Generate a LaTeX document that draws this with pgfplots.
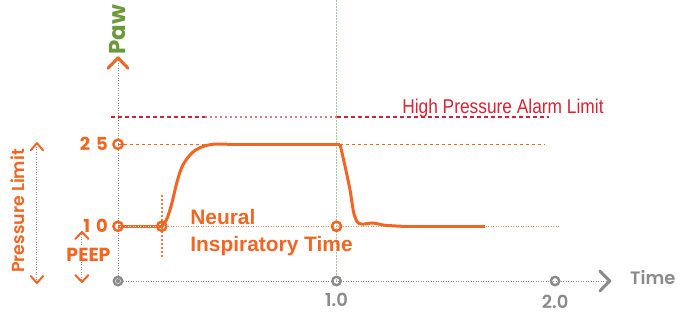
\documentclass[border=0pt]{standalone}
\usepackage{fontspec}
\setmainfont{Liberation Sans}
\newfontfamily\pop{Poppins SemiBold}
\newfontfamily\popb{Poppins Bold}
\usepackage{pgfplots}
\pgfplotsset{compat=1.18}
\definecolor{org}{HTML}{F26522}
\definecolor{gry}{HTML}{8A8A8A}
\definecolor{grn}{HTML}{6A9A3A}
\definecolor{lgrn}{HTML}{A8C890}
\definecolor{alrm}{HTML}{C8263C}
\definecolor{alrmtxt}{HTML}{D92234}
\definecolor{alrml}{HTML}{E07A88}
\begin{document}
\begin{tikzpicture}
\begin{axis}[
  scale only axis, width=677bp, height=314bp,
  xmin=-0.540, xmax=2.558, ymin=-6.03, ymax=51.37,
  axis lines=none, clip=false,
]
% green vertical line at 1.0
\addplot[draw=lgrn, line width=1bp, dash pattern=on 1.5bp off 1.5bp] coordinates {(1.0,51.3) (1.0,0)};
% orange vertical dotted at 0.2
\addplot[draw=org!85, line width=1.4bp, dash pattern=on 2bp off 2bp] coordinates {(0.202,15.7) (0.202,4.4)};
% axes
\addplot[draw=gry, line width=1bp, dash pattern=on 1bp off 1.5bp] coordinates {(0,0) (0,40.5)};
\addplot[draw=gry, line width=1bp, dash pattern=on 1bp off 1.5bp] coordinates {(0,0) (2.24,0)};
% alarm line
\addplot[draw=alrm, line width=1.6bp, dash pattern=on 4bp off 3bp] coordinates {(-0.03,30) (0.4,30)};
\addplot[draw=alrml, line width=1.2bp, dash pattern=on 2bp off 3bp] coordinates {(0.4,30) (1.0,30)};
\addplot[draw=alrm, line width=1.6bp, dash pattern=on 4bp off 3bp] coordinates {(1.0,30) (1.97,30)};
% reference lines
\addplot[draw=org, line width=1bp, dash pattern=on 3bp off 3bp] coordinates {(0,25) (1.95,25)};
\addplot[draw=org!70, line width=0.8bp, dash pattern=on 1bp off 1.5bp] coordinates {(0,10) (2.02,10)};
% pressure curve
\addplot[draw=org, line width=3bp] coordinates {(0,10) (0.2,10)};
\addplot[draw=white, line width=0.8bp, dash pattern=on 1bp off 1.5bp] coordinates {(0.01,10) (0.19,10)};
\addplot[draw=org, line width=3bp, smooth, tension=0.5] coordinates {
 (0.2,10) (0.222,11.2) (0.245,14) (0.268,17.8) (0.29,20.6) (0.316,22.4) (0.35,23.8) (0.39,24.6) (0.435,25) (0.5,25)};
\addplot[draw=org, line width=3bp] coordinates {(0.5,25) (1.016,25)};
\addplot[draw=org, line width=3bp, smooth, tension=0.5] coordinates {
 (1.016,25) (1.04,20.8) (1.062,16.6) (1.078,12.6) (1.095,10.8) (1.117,10.4) (1.167,10.6) (1.22,10.2) (1.30,10.0)};
\addplot[draw=org, line width=3bp] coordinates {(1.30,10) (1.68,10)};
% circles
\addplot[only marks, mark=o, mark size=4.6bp, line width=2.5bp, org, mark options={fill=white}] coordinates {(0,25) (0,10) (0.2,10) (1.0,10)};
\addplot[only marks, mark=o, mark size=4.2bp, line width=2.4bp, gry, mark options={fill=white}] coordinates {(1.0,0) (2.0,0) (0,0)};
\addplot[only marks, mark=*, mark size=2bp, gry] coordinates {(0,0)};
% chevrons
\draw[org, line width=3bp, line cap=round, line join=round] (axis cs:-0.046,38.9) -- (axis cs:0,40.8) -- (axis cs:0.046,38.9);
\draw[gry, line width=3bp, line cap=round, line join=round] (axis cs:2.205,1.83) -- (axis cs:2.25,0) -- (axis cs:2.205,-1.83);
% pressure limit arrow
\addplot[draw=gry, line width=0.9bp, dash pattern=on 1bp off 1.5bp] coordinates {(-0.371,25) (-0.371,0)};
\draw[org, line width=2bp, line cap=round, line join=round] (axis cs:-0.399,23.9) -- (axis cs:-0.371,25.2) -- (axis cs:-0.343,23.9);
\draw[org, line width=2bp, line cap=round, line join=round] (axis cs:-0.399,0.9) -- (axis cs:-0.371,-0.37) -- (axis cs:-0.343,0.9);
% PEEP arrow
\addplot[draw=gry, line width=0.9bp, dash pattern=on 1bp off 1.5bp] coordinates {(-0.165,9) (-0.165,0)};
\draw[org, line width=2bp, line cap=round, line join=round] (axis cs:-0.195,7.7) -- (axis cs:-0.165,8.96) -- (axis cs:-0.135,7.7);
\draw[org, line width=2bp, line cap=round, line join=round] (axis cs:-0.195,1.1) -- (axis cs:-0.165,-0.18) -- (axis cs:-0.135,1.1);
% texts
\node[rotate=90, text=grn, font=\popb\fontsize{23}{25}\selectfont] at (axis cs:0,45.9) {Paw};
\node[rotate=90, text=org, font=\pop\fontsize{17.5}{19}\selectfont, fill=white, inner sep=1bp] at (axis cs:-0.458,12.8) {Pressure Limit};
\node[text=org, font=\popb\fontsize{19}{21}\selectfont, fill=white, inner sep=1bp] at (axis cs:-0.135,4.84) {PEEP};
\node[anchor=east, text=org, font=\popb\fontsize{18}{20}\selectfont, inner sep=0pt] at (axis cs:-0.046,25) {2\,\,5};
\node[anchor=east, text=org, font=\popb\fontsize{18}{20}\selectfont, inner sep=0pt] at (axis cs:-0.046,10) {1\,\,0};
\node[text=gry, font=\pop\fontsize{18}{20}\selectfont] at (axis cs:1.0,-3.47) {1.0};
\node[text=gry, font=\pop\fontsize{18}{20}\selectfont] at (axis cs:2.0,-3.75) {2.0};
\node[anchor=west, text=gry, font=\pop\fontsize{18}{20}\selectfont, inner sep=0pt] at (axis cs:2.343,0.55) {Time};
\node[anchor=base west, text=org, font=\bfseries\fontsize{21}{24}\selectfont, inner sep=0pt] at (axis cs:0.33,10.4) {Neural};
\node[anchor=base west, text=org, font=\bfseries\fontsize{21}{24}\selectfont, inner sep=0pt] at (axis cs:0.33,5.48) {Inspiratory Time};
\node[anchor=base west, text=alrmtxt, inner sep=0pt] at (axis cs:1.30,30.7) {\scalebox{0.87}[1]{\fontsize{20}{22}\selectfont High Pressure Alarm Limit}};
\end{axis}
\pgfresetboundingbox
\path[use as bounding box] (current axis.south west) rectangle (current axis.north east);
\end{tikzpicture}
\end{document}
